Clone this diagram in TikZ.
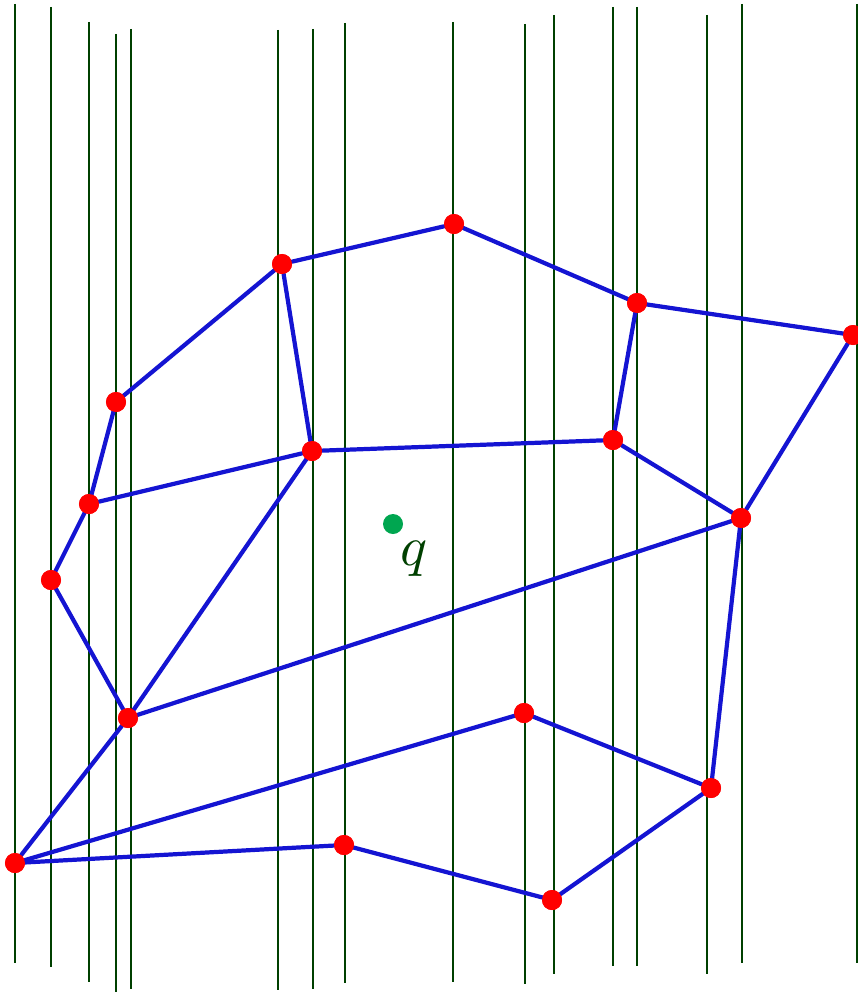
\documentclass[tikz,border=0pt]{standalone}
\usepackage{amsmath,amssymb}
\usepackage{xcolor}
\usepackage{tikz}
\usetikzlibrary{calc}
\definecolor{slabgreen}{RGB}{0,64,0}
\definecolor{edgeblue}{RGB}{20,20,210}
\definecolor{qgreen}{RGB}{0,166,80}
\tikzset{
  vtx/.style={circle, fill=red, minimum size=0.5cm, inner sep=0pt},
  qpt/.style={circle, fill=qgreen, minimum size=0.5cm, inner sep=0pt},
  slab/.style={draw=slabgreen, line width=1.3pt},
  edge/.style={draw=edgeblue, line width=3pt},
  every picture/.style={line cap=round, line join=round}
}

\begin{document}
\begin{tikzpicture}[x=0.025cm, y=-0.025cm]
    \useasboundingbox (0,0) rectangle (857,992);

    \foreach \x/\t/\b in {15/4/963, 51/7/967, 89/22/982, 116/34/992, 131/29/989,
      278/30/990, 313/29/989, 345/23/983, 453/22/982, 525/24/984, 554/15/974,
      613/7/966, 637/7/966, 707/15/974, 742/4/963, 857/4/963}
      \draw[slab, line cap=butt] (\x,\t) -- (\x,\b);

    \node[vtx] (v1) at (15,863) {};
    \node[vtx] (v2) at (51,580) {};
    \node[vtx] (v3) at (89,504) {};
    \node[vtx] (v4) at (116,402) {};
    \node[vtx] (v5) at (128,718) {};
    \node[vtx] (v6) at (282,264) {};
    \node[vtx] (v7) at (312,451) {};
    \node[vtx] (v8) at (344,845) {};
    \node[vtx] (v9) at (454,224) {};
    \node[vtx] (v10) at (524,713) {};
    \node[vtx] (v11) at (552,900) {};
    \node[vtx] (v12) at (613,440) {};
    \node[vtx] (v13) at (637,303) {};
    \node[vtx] (v14) at (711,788) {};
    \node[vtx] (v15) at (741,518) {};
    \node[vtx] (v16) at (853,335) {};

    \draw[edge] (v1)--(v5)--(v2)--(v3)--(v4)--(v6)--(v9)--(v13)--(v16)--(v15)--(v14)--(v11)--(v8)--(v1);
    \draw[edge] (v1)--(v10)--(v14);
    \draw[edge] (v5)--(v7)--(v3);
    \draw[edge] (v7)--(v6) (v7)--(v12)--(v13) (v12)--(v15) (v5)--(v15);

    \foreach \v in {1,...,16}
      \node[vtx] at (v\v) {};

    \node[qpt] (q) at (393,524) {};
    \node[inner sep=0pt, text=slabgreen] (qlabel) at (414,559) {\scalebox{4}{$q$}};
  \end{tikzpicture}
\end{document}
